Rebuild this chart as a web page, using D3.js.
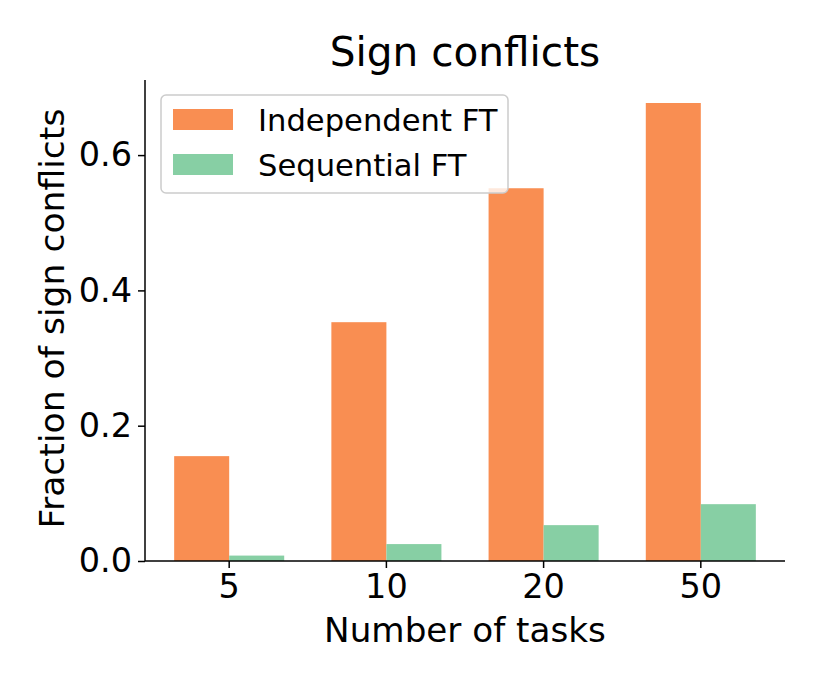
<!DOCTYPE html>
<html>
<head>
<meta charset="utf-8">
<script src="https://cdn.jsdelivr.net/npm/d3@7"></script>
<style>
  html, body { margin: 0; padding: 0; background: #fff; }
  text { font-family: "DejaVu Sans", sans-serif; fill: #000; }
</style>
</head>
<body>
<svg id="chart" width="822" height="685"></svg>
<script>
const categories = ["5", "10", "20", "50"];
const seriesNames = ["Independent FT", "Sequential FT"];
const independentFT = [0.155, 0.353, 0.551, 0.677];
const sequentialFT = [0.008, 0.025, 0.053, 0.084];
const yTicks = [0.0, 0.2, 0.4, 0.6];
const colors = ["#f98e52", "#87cfa4"];

const svg = d3.select("#chart");
const plotLeft = 145, plotRight = 785, plotTop = 80, plotBottom = 561;

const x = d3.scaleBand().domain(categories).range([plotLeft, plotRight])
  .paddingInner(0.3).paddingOuter(0.1855);
const sub = d3.scaleBand().domain(seriesNames).range([0, x.bandwidth()]);
const y = d3.scaleLinear().domain([0, 0.711]).range([plotBottom, plotTop]);

const series = [independentFT, sequentialFT];
series.forEach((vals, si) => {
  svg.append("g").selectAll("rect").data(vals).join("rect")
    .attr("x", (d, i) => x(categories[i]) + sub(seriesNames[si]))
    .attr("y", d => y(d))
    .attr("width", sub.bandwidth())
    .attr("height", d => y(0) - y(d))
    .attr("fill", colors[si]);
});

// axes
const yAxis = d3.axisLeft(y).tickValues(yTicks).tickFormat(d3.format(".1f"))
  .tickSize(7).tickPadding(6);
const gy = svg.append("g").attr("transform", `translate(${plotLeft},0)`).call(yAxis);
gy.select(".domain").attr("stroke", "#000").attr("stroke-width", 1.5)
  .attr("d", `M0,${plotTop}V${plotBottom}`);
gy.selectAll(".tick line").attr("stroke", "#000").attr("stroke-width", 1.5);
gy.selectAll(".tick text").style("font-size", "33.5px").style("font-family", "DejaVu Sans");

const xAxis = d3.axisBottom(x).tickSize(7).tickPadding(6);
const gx = svg.append("g").attr("transform", `translate(0,${plotBottom})`).call(xAxis);
gx.select(".domain").attr("stroke", "#000").attr("stroke-width", 1.5)
  .attr("d", `M${plotLeft},0H${plotRight}`);
gx.selectAll(".tick line").attr("stroke", "#000").attr("stroke-width", 1.5);
gx.selectAll(".tick text").style("font-size", "33.5px").style("font-family", "DejaVu Sans");

// title & labels
svg.append("text").attr("x", (plotLeft + plotRight) / 2).attr("y", 66)
  .attr("text-anchor", "middle").style("font-size", "40.6px").text("Sign conflicts");
svg.append("text").attr("x", (plotLeft + plotRight) / 2).attr("y", 642)
  .attr("text-anchor", "middle").style("font-size", "34.2px").text("Number of tasks");
svg.append("text").attr("transform", `translate(64,${(plotTop + plotBottom) / 2 - 2}) rotate(-90)`)
  .attr("text-anchor", "middle").style("font-size", "34.6px").text("Fraction of sign conflicts");

// legend
const lg = svg.append("g");
lg.append("rect").attr("x", 161).attr("y", 95).attr("width", 347).attr("height", 98)
  .attr("rx", 5).attr("fill", "#fff").attr("fill-opacity", 0.8)
  .attr("stroke", "#cccccc").attr("stroke-width", 1.5);
seriesNames.forEach((name, i) => {
  lg.append("rect").attr("x", 173).attr("y", 109 + i * 45).attr("width", 60).attr("height", 21)
    .attr("fill", colors[i]);
  lg.append("text").attr("x", 258).attr("y", 130.5 + i * 45)
    .style("font-size", "30.6px").text(name);
});
</script>
</body>
</html>
